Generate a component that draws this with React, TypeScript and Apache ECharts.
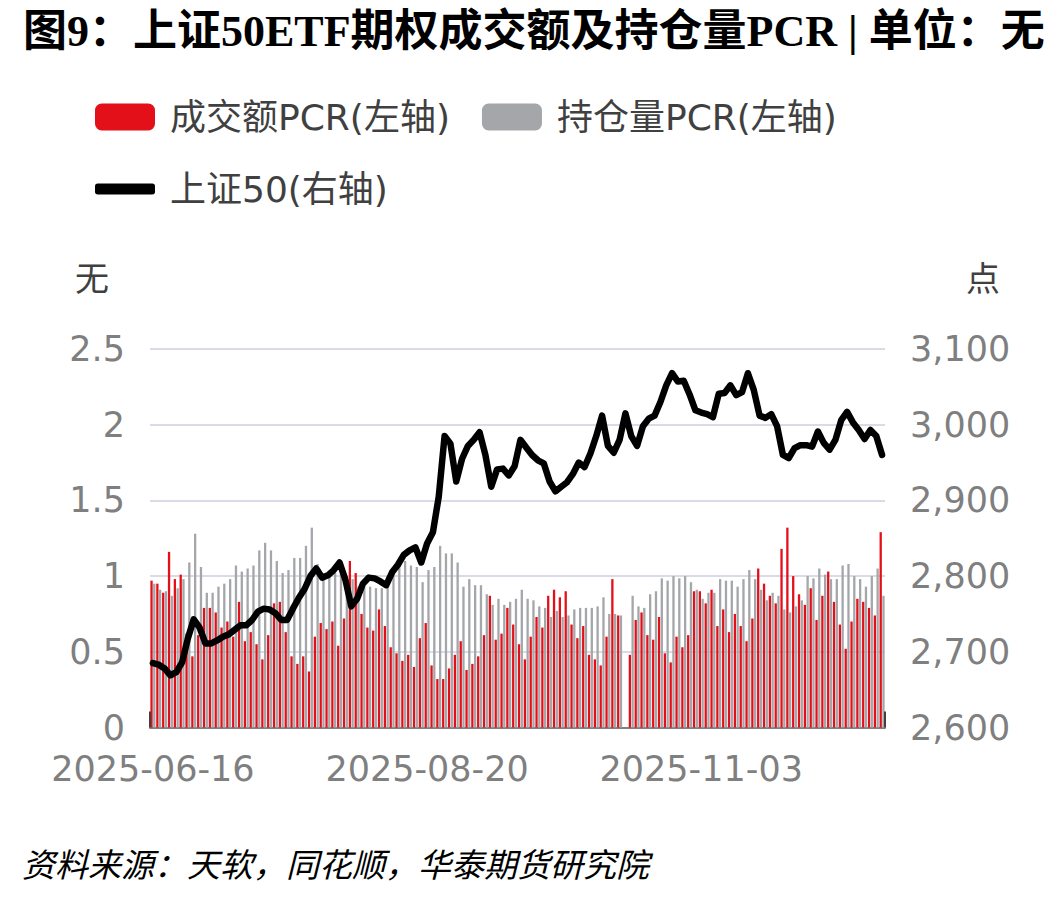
import React, { useEffect, useRef } from "react";
import * as echarts from "echarts";

// ---------- data ----------
const START_DATE = "2025-06-16";
const DAY_COUNT = 126;
const HOLIDAYS = ["2025-10-01", "2025-10-02", "2025-10-03", "2025-10-06", "2025-10-07", "2025-10-08"];

function buildTradingDays(start: string, n: number, holidays: string[]): string[] {
  const out: string[] = [];
  const d = new Date(start + "T00:00:00Z");
  while (out.length < n) {
    const wd = d.getUTCDay();
    const s = d.toISOString().slice(0, 10);
    if (wd !== 0 && wd !== 6 && holidays.indexOf(s) < 0) out.push(s);
    d.setUTCDate(d.getUTCDate() + 1);
  }
  return out;
}
const categories = buildTradingDays(START_DATE, DAY_COUNT, HOLIDAYS);

const turnoverPCR: (number | null)[] = [
  0.97, 0.95, 0.89, 1.16, 0.98, 1.01, 0.62, 0.47, 0.61, 0.79,
  0.79, 0.76, 0.66, 0.70, 0.60, 0.83, 0.57, 0.63, 0.55, 0.45,
  0.61, 0.82, 0.83, 0.63, 0.47, 0.42, 0.47, 0.37, 0.60, 0.69,
  0.65, 0.70, 0.54, 0.72, 1.10, 1.02, 0.75, 0.66, 0.64, 0.78,
  0.67, 0.53, 0.49, 0.44, 0.48, 0.40, 0.59, 0.69, 0.41, 0.32,
  0.32, 0.39, 0.48, 0.57, 0.38, 0.42, 0.47, 0.61, 0.87, 0.58,
  0.62, 0.79, 0.68, 0.55, 0.45, 0.60, 0.73, 0.66, 0.87, 0.91,
  0.86, 0.90, 0.68, 0.59, 0.67, 0.48, 0.45, 0.41, 0.60, 0.98,
  0.74, null, 0.48, 0.71, 0.76, 0.61, 0.58, 0.73, 0.49, 0.43,
  0.60, 0.53, 0.61, 0.90, 0.90, 0.82, 0.91, 0.67, 0.78, 0.63,
  0.75, 0.67, 0.57, 0.72, 1.05, 0.95, 0.87, 0.82, 1.18, 1.32,
  1.00, 0.88, 0.81, 0.92, 0.71, 0.87, 1.03, 0.83, 0.68, 0.52,
  0.70, 0.85, 0.83, 0.79, 0.74, 1.29,
];

const positionPCR: (number | null)[] = [
  0.95, 0.91, 0.90, 0.87, 0.92, 0.98, 1.09, 1.28, 1.06, 0.89,
  0.89, 0.93, 0.95, 0.98, 1.07, 1.03, 1.05, 1.07, 1.17, 1.22,
  1.17, 1.10, 1.02, 1.04, 1.12, 1.12, 1.20, 1.32, 1.08, 1.00,
  1.00, 1.02, 1.05, 1.00, 0.98, 0.93, 0.93, 0.93, 0.92, 0.92,
  1.00, 1.06, 1.10, 1.10, 1.07, 1.06, 0.96, 1.04, 1.06, 1.20,
  1.15, 1.15, 1.09, 0.93, 0.98, 0.94, 0.94, 0.88, 0.81, 0.85,
  0.81, 0.83, 0.85, 0.91, 0.85, 0.84, 0.80, 0.79, 0.73, 0.77,
  0.73, 0.74, 0.78, 0.79, 0.79, 0.79, 0.80, 0.86, 0.75, 0.75,
  0.74, null, 0.87, 0.80, 0.79, 0.88, 0.90, 0.985, 0.97, 1.00,
  0.985, 1.00, 0.96, 0.91, 0.85, 0.89, 0.89, 0.98, 0.97, 0.97,
  0.93, 0.98, 1.04, 0.98, 0.91, 0.84, 0.89, 0.87, 0.78, 0.76,
  0.80, 0.84, 1.00, 0.985, 1.05, 1.01, 0.98, 0.98, 1.07, 1.08,
  1.00, 0.98, 0.93, 1.00, 1.05, 0.87,
];

const sse50: number[] = [
  2685, 2683, 2678, 2669, 2673, 2686, 2718, 2743, 2732, 2711,
  2711, 2715, 2720, 2723, 2729, 2735, 2735, 2742, 2753, 2757,
  2756, 2751, 2742, 2742, 2757, 2771, 2783, 2800, 2810, 2798,
  2801, 2808, 2818, 2795, 2760, 2770, 2790, 2798, 2797, 2793,
  2788, 2805, 2815, 2828, 2834, 2838, 2818, 2843, 2858, 2905,
  2985, 2975, 2925, 2955, 2972, 2980, 2990, 2960, 2918, 2941,
  2942, 2933, 2945, 2980, 2970, 2960, 2953, 2949, 2925, 2912,
  2918, 2924, 2935, 2950, 2944, 2962, 2985, 3012, 2972, 2963,
  2980, 3015, 2985, 2972, 2998, 3008, 3012, 3030, 3052, 3068,
  3057, 3058, 3040, 3019, 3016, 3014, 3010, 3041, 3042, 3052,
  3039, 3043, 3068, 3046, 3012, 3009, 3014, 2998, 2960, 2956,
  2969, 2973, 2973, 2971, 2991, 2976, 2967, 2980, 3006, 3017,
  3003, 2993, 2981, 2993, 2985, 2960,
];

const leftTicks = { min: 0, max: 2.5, interval: 0.5 };
const rightTicks = { min: 2600, max: 3100, interval: 100 };

const TITLE = "图9：上证50ETF期权成交额及持仓量PCR | 单位：无";
const SOURCE = "资料来源：天软，同花顺，华泰期货研究院";
const NAME_RED = "成交额PCR(左轴)";
const NAME_GRAY = "持仓量PCR(左轴)";
const NAME_LINE = "上证50(右轴)";

const RED = "#E3101A";
const GRAY = "#A4A6A9";
const AXIS_TEXT = "#7F7F7F";
const LEGEND_TEXT = "#404040";
const SANS = "'DejaVu Sans', 'Noto Sans CJK SC', sans-serif";

const GRID = { left: 150, right: 172, top: 349, bottom: 170.5 };

export default function App() {
  const ref = useRef<HTMLDivElement>(null);
  useEffect(() => {
    if (!ref.current) return;
    const chart = echarts.init(ref.current, undefined, { renderer: "svg" });
    const legendText = { fontSize: 36, color: LEGEND_TEXT, fontFamily: SANS, padding: [0, 0, 0, 10] };
    const plotRight = 1057 - GRID.right;
    const plotBottom = 898 - GRID.bottom;
    chart.setOption({
      animation: false,
      backgroundColor: "#ffffff",
      title: {
        text: TITLE,
        left: 18,
        top: 4,
        textStyle: {
          fontSize: 44,
          fontWeight: "bold",
          color: "#000",
          fontFamily: "'Liberation Serif', 'Noto Sans CJK SC', serif",
        },
      },
      legend: [
        {
          data: [NAME_RED, NAME_GRAY],
          left: 90,
          top: 94,
          itemWidth: 60,
          itemHeight: 27,
          itemGap: 32,
          icon: "roundRect",
          textStyle: legendText,
        },
        {
          data: [NAME_LINE],
          left: 90,
          top: 166,
          itemWidth: 60,
          itemHeight: 11,
          icon: "roundRect",
          textStyle: legendText,
        },
      ],
      grid: { ...GRID, containLabel: false },
      xAxis: {
        type: "category",
        data: categories,
        boundaryGap: true,
        axisLine: { lineStyle: { color: "#808080", width: 2 } },
        axisTick: { show: false },
        axisLabel: { interval: 46, fontSize: 35, color: AXIS_TEXT, margin: 24, fontFamily: SANS },
      },
      yAxis: [
        {
          type: "value",
          ...leftTicks,
          axisLine: { show: false },
          axisTick: { show: false },
          axisLabel: { fontSize: 35, color: AXIS_TEXT, margin: 25, fontFamily: SANS },
          splitLine: { lineStyle: { color: "#D9DCE6", width: 2 } },
        },
        {
          type: "value",
          ...rightTicks,
          axisLine: { show: false },
          axisTick: { show: false },
          axisLabel: {
            fontSize: 35,
            color: AXIS_TEXT,
            margin: 25,
            fontFamily: SANS,
            formatter: (v: number) => v.toLocaleString("en-US"),
          },
          splitLine: { show: false },
        },
      ],
      series: [
        {
          name: NAME_RED,
          type: "bar",
          data: turnoverPCR,
          barWidth: 2.3,
          barGap: "20%",
          itemStyle: { color: RED },
        },
        {
          name: NAME_GRAY,
          type: "bar",
          data: positionPCR,
          barWidth: 2.3,
          itemStyle: { color: GRAY },
        },
        {
          name: NAME_LINE,
          type: "line",
          yAxisIndex: 1,
          data: sse50,
          symbol: "none",
          color: "#000",
          z: 5,
          lineStyle: { color: "#000", width: 6.5, cap: "round", join: "round" },
        },
      ],
      graphic: [
        {
          type: "line",
          shape: { x1: GRID.left, y1: plotBottom - 16, x2: GRID.left, y2: plotBottom },
          style: { stroke: "#404040", lineWidth: 2 },
          z: 10,
        },
        {
          type: "line",
          shape: { x1: plotRight, y1: plotBottom - 16, x2: plotRight, y2: plotBottom },
          style: { stroke: "#404040", lineWidth: 2 },
          z: 10,
        },
        {
          type: "text",
          left: 75,
          top: 262,
          style: { text: "无", fontSize: 34, fill: LEGEND_TEXT, fontFamily: SANS },
        },
        {
          type: "text",
          left: 966,
          top: 262,
          style: { text: "点", fontSize: 34, fill: LEGEND_TEXT, fontFamily: SANS },
        },
        {
          type: "text",
          left: 22,
          top: 846,
          style: {
            text: SOURCE,
            fontSize: 33,
            fontStyle: "italic",
            fill: "#000",
            fontFamily: "'Noto Sans CJK SC', sans-serif",
          },
        },
      ],
    });
    return () => chart.dispose();
  }, []);
  return <div ref={ref} style={{ width: 1057, height: 898, position: "absolute", left: 0, top: 0 }} />;
}
